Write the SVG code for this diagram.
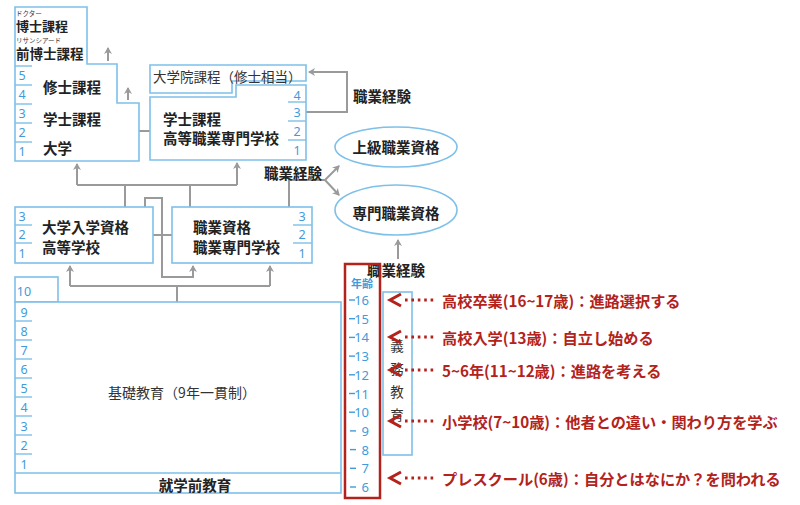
<svg xmlns="http://www.w3.org/2000/svg" width="800" height="505" viewBox="0 0 800 505">
<defs>
<marker id="ah" markerWidth="8" markerHeight="8" refX="6" refY="4" orient="auto" markerUnits="userSpaceOnUse">
<path d="M0,0 L7,4 L0,8 L2,4 Z" fill="#9a9a9a"/>
</marker>
<style>
.box{fill:#fff;stroke:#7dc0ea;stroke-width:1.6}
.sep{stroke:#7dc0ea;stroke-width:1.4}
.yr{font-family:'Noto Sans','Noto Sans CJK JP',sans-serif;font-size:12.5px;fill:#3f9bdb;text-anchor:middle;dominant-baseline:central}
.age{font-family:'Noto Sans','Noto Sans CJK JP',sans-serif;font-size:13px;fill:#3f9bdb;text-anchor:end;dominant-baseline:central}
.lbl{font-family:'Noto Sans CJK JP',sans-serif;font-size:14.5px;font-weight:bold;fill:#222;dominant-baseline:central}
.lbn{font-family:'Noto Sans CJK JP',sans-serif;font-size:13.5px;fill:#333;dominant-baseline:central}
.ruby{font-family:'Noto Sans CJK JP',sans-serif;font-size:6.5px;fill:#333;dominant-baseline:central}
.con{fill:none;stroke:#9a9a9a;stroke-width:2}
.note{font-family:'Noto Sans CJK JP',sans-serif;font-size:15.2px;font-weight:bold;fill:#b3221b;dominant-baseline:central}
.chev{fill:none;stroke:#b3221b;stroke-width:3}
.dots{stroke:#b3221b;stroke-width:2.8;stroke-dasharray:2.6 3.8}
.dash{stroke:#3f9bdb;stroke-width:1.4}
</style>
</defs>
<rect width="800" height="505" fill="#fff"/>

<g id="connectors">
<line class="con" x1="108" y1="61" x2="108" y2="48" marker-end="url(#ah)"/>
<line class="con" x1="128" y1="100" x2="128" y2="88" marker-end="url(#ah)"/>
<line class="con" x1="145" y1="131" x2="131" y2="131" marker-end="url(#ah)"/>
<line class="con" x1="145" y1="131" x2="158" y2="131" marker-end="url(#ah)"/>
<polyline class="con" points="306,112 347,112 347,72 309,72" marker-end="url(#ah)"/>
<polyline class="con" points="77,185 237,185"/>
<line class="con" x1="77" y1="185" x2="77" y2="164" marker-end="url(#ah)"/>
<line class="con" x1="237" y1="185" x2="237" y2="163" marker-end="url(#ah)"/>
<line class="con" x1="125" y1="185" x2="125" y2="207"/>
<line class="con" x1="190" y1="185" x2="190" y2="207"/>
<polyline class="con" points="289,207 289,180 325,180"/>
<line class="con" x1="325" y1="180" x2="339" y2="166" marker-end="url(#ah)"/>
<line class="con" x1="325" y1="180" x2="339" y2="195" marker-end="url(#ah)"/>
<line class="con" x1="160" y1="235" x2="143" y2="235" marker-end="url(#ah)"/>
<line class="con" x1="160" y1="235" x2="182" y2="235" marker-end="url(#ah)"/>
<polyline class="con" points="145,207 145,198 162,198 162,277 193,277 193,266" marker-end="url(#ah)"/>
<polyline class="con" points="70,286 270,286"/>
<line class="con" x1="70" y1="286" x2="70" y2="266" marker-end="url(#ah)"/>
<line class="con" x1="270" y1="286" x2="270" y2="266" marker-end="url(#ah)"/>
<line class="con" x1="177" y1="286" x2="177" y2="302"/>
<line class="con" x1="398" y1="259" x2="398" y2="240" marker-end="url(#ah)"/>
</g>

<g id="university">
<path class="box" d="M15,7 H87 V64 H117 V103 H139 V161 H15 Z"/>
<line class="sep" x1="15" y1="66" x2="32" y2="66"/>
<line class="sep" x1="15" y1="85" x2="32" y2="85"/>
<line class="sep" x1="15" y1="104" x2="32" y2="104"/>
<line class="sep" x1="15" y1="123" x2="32" y2="123"/>
<line class="sep" x1="15" y1="142" x2="32" y2="142"/>
<text class="yr" x="22" y="75">5</text>
<text class="yr" x="22" y="94">4</text>
<text class="yr" x="22" y="113">3</text>
<text class="yr" x="22" y="132">2</text>
<text class="yr" x="22" y="151">1</text>
<text class="ruby" x="16" y="12.5">ドクター</text>
<text class="lbl" x="16" y="25.5" style="font-size:13px">博士課程</text>
<text class="ruby" x="16" y="39.5">リサンシアード</text>
<text class="lbl" x="16" y="53" style="font-size:13.5px">前博士課程</text>
<text class="lbl" x="43" y="86">修士課程</text>
<text class="lbl" x="43" y="118">学士課程</text>
<text class="lbl" x="43" y="147">大学</text>
</g>

<g id="graduate">
<path class="box" d="M150,65 H306 V81 H232 V93 H150 Z"/>
<text class="lbn" x="153" y="76">大学院課程（修士相当）</text>
</g>

<g id="bachelor-tech">
<path class="box" d="M150,97 H236 V85 H306 V160 H150 Z"/>
<line class="sep" x1="288" y1="102" x2="306" y2="102"/>
<line class="sep" x1="288" y1="121" x2="306" y2="121"/>
<line class="sep" x1="288" y1="140" x2="306" y2="140"/>
<text class="yr" x="297" y="95">4</text>
<text class="yr" x="297" y="112">3</text>
<text class="yr" x="297" y="131">2</text>
<text class="yr" x="297" y="150">1</text>
<text class="lbl" x="163" y="118">学士課程</text>
<text class="lbl" x="163" y="137">高等職業専門学校</text>
</g>

<g id="exp1">
<text class="lbl" x="353" y="95">職業経験</text>
</g>

<g id="senior-qual">
<ellipse class="box" cx="396" cy="147" rx="61" ry="20"/>
<text class="lbl" x="396" y="146" text-anchor="middle">上級職業資格</text>
</g>

<g id="exp2">
<text class="lbl" x="264" y="172">職業経験</text>
</g>

<g id="pro-qual">
<ellipse class="box" cx="396" cy="210" rx="61" ry="25"/>
<text class="lbl" x="396" y="212" text-anchor="middle">専門職業資格</text>
</g>

<g id="exp3">
<text class="lbl" x="367" y="269">職業経験</text>
</g>

<g id="high-school">
<rect class="box" x="15" y="207" width="138" height="56"/>
<line class="sep" x1="15" y1="225" x2="32" y2="225"/>
<line class="sep" x1="15" y1="243" x2="32" y2="243"/>
<text class="yr" x="22" y="216">3</text>
<text class="yr" x="22" y="234">2</text>
<text class="yr" x="22" y="253">1</text>
<text class="lbl" x="42" y="226">大学入学資格</text>
<text class="lbl" x="42" y="246">高等学校</text>
</g>

<g id="vocational">
<rect class="box" x="172" y="207" width="140" height="56"/>
<line class="sep" x1="293" y1="225" x2="312" y2="225"/>
<line class="sep" x1="293" y1="243" x2="312" y2="243"/>
<text class="yr" x="302" y="216">3</text>
<text class="yr" x="302" y="234">2</text>
<text class="yr" x="302" y="253">1</text>
<text class="lbl" x="193" y="226">職業資格</text>
<text class="lbl" x="193" y="246">職業専門学校</text>
</g>

<g id="basic-education">
<rect class="box" x="15" y="277" width="43" height="25"/>
<rect class="box" x="15" y="302" width="326" height="191"/>
<line class="sep" x1="15" y1="473" x2="341" y2="473"/>
<line class="sep" x1="15" y1="321" x2="32" y2="321"/>
<line class="sep" x1="15" y1="340" x2="32" y2="340"/>
<line class="sep" x1="15" y1="359" x2="32" y2="359"/>
<line class="sep" x1="15" y1="378" x2="32" y2="378"/>
<line class="sep" x1="15" y1="397" x2="32" y2="397"/>
<line class="sep" x1="15" y1="416" x2="32" y2="416"/>
<line class="sep" x1="15" y1="435" x2="32" y2="435"/>
<line class="sep" x1="15" y1="454" x2="32" y2="454"/>
<text class="yr" x="24" y="291">10</text>
<text class="yr" x="24" y="312">9</text>
<text class="yr" x="24" y="331">8</text>
<text class="yr" x="24" y="350">7</text>
<text class="yr" x="24" y="369">6</text>
<text class="yr" x="24" y="388">5</text>
<text class="yr" x="24" y="407">4</text>
<text class="yr" x="24" y="426">3</text>
<text class="yr" x="24" y="445">2</text>
<text class="yr" x="24" y="464">1</text>
<text class="lbn" x="182" y="392" text-anchor="middle" style="font-size:14px">基礎教育（9年一貫制）</text>
<text class="lbl" x="195" y="484" text-anchor="middle">就学前教育</text>
</g>

<g id="compulsory">
<rect class="box" x="383" y="292" width="29" height="163"/>
<text class="lbn" x="397" y="345" text-anchor="middle" fill="#555">義</text>
<text class="lbn" x="397" y="368" text-anchor="middle" fill="#555">務</text>
<text class="lbn" x="397" y="391" text-anchor="middle" fill="#555">教</text>
<text class="lbn" x="397" y="414" text-anchor="middle" fill="#555">育</text>
</g>

<g id="age-column">
<rect x="345" y="264" width="35" height="234" fill="none" stroke="#b3221b" stroke-width="2.5"/>
<text x="362" y="283" text-anchor="middle" dominant-baseline="central" font-family="'Noto Sans CJK JP',sans-serif" font-size="11" font-weight="bold" fill="#3f9bdb">年齢</text>
<line class="dash" x1="349" y1="300" x2="355" y2="300"/><text class="age" x="369" y="300">16</text>
<line class="dash" x1="349" y1="318.7" x2="355" y2="318.7"/><text class="age" x="369" y="318.7">15</text>
<line class="dash" x1="349" y1="337.4" x2="355" y2="337.4"/><text class="age" x="369" y="337.4">14</text>
<line class="dash" x1="349" y1="356.1" x2="355" y2="356.1"/><text class="age" x="369" y="356.1">13</text>
<line class="dash" x1="349" y1="374.8" x2="355" y2="374.8"/><text class="age" x="369" y="374.8">12</text>
<line class="dash" x1="349" y1="393.5" x2="355" y2="393.5"/><text class="age" x="369" y="393.5">11</text>
<line class="dash" x1="349" y1="412.2" x2="355" y2="412.2"/><text class="age" x="369" y="412.2">10</text>
<line class="dash" x1="350" y1="430.9" x2="356" y2="430.9"/><text class="age" x="369" y="430.9">9</text>
<line class="dash" x1="350" y1="449.6" x2="356" y2="449.6"/><text class="age" x="369" y="449.6">8</text>
<line class="dash" x1="350" y1="468.3" x2="356" y2="468.3"/><text class="age" x="369" y="468.3">7</text>
<line class="dash" x1="350" y1="487" x2="356" y2="487"/><text class="age" x="369" y="487">6</text>
</g>

<g id="notes">
<polyline class="chev" points="401,294 390,300 401,306"/><line class="dots" x1="405" y1="300" x2="436" y2="300"/>
<text class="note" x="442" y="300">高校卒業(16~17歳)：進路選択する</text>
<polyline class="chev" points="401,331 390,337 401,343"/><line class="dots" x1="405" y1="337" x2="436" y2="337"/>
<text class="note" x="442" y="337">高校入学(13歳)：自立し始める</text>
<polyline class="chev" points="401,364 390,370 401,376"/><line class="dots" x1="405" y1="370" x2="436" y2="370"/>
<text class="note" x="442" y="370">5~6年(11~12歳)：進路を考える</text>
<polyline class="chev" points="401,415 390,421 401,427"/><line class="dots" x1="405" y1="421" x2="436" y2="421"/>
<text class="note" x="442" y="421">小学校(7~10歳)：他者との違い・関わり方を学ぶ</text>
<polyline class="chev" points="401,472 390,478 401,484"/><line class="dots" x1="405" y1="478" x2="436" y2="478"/>
<text class="note" x="442" y="478">プレスクール(6歳)：自分とはなにか？を問われる</text>
</g>
</svg>
